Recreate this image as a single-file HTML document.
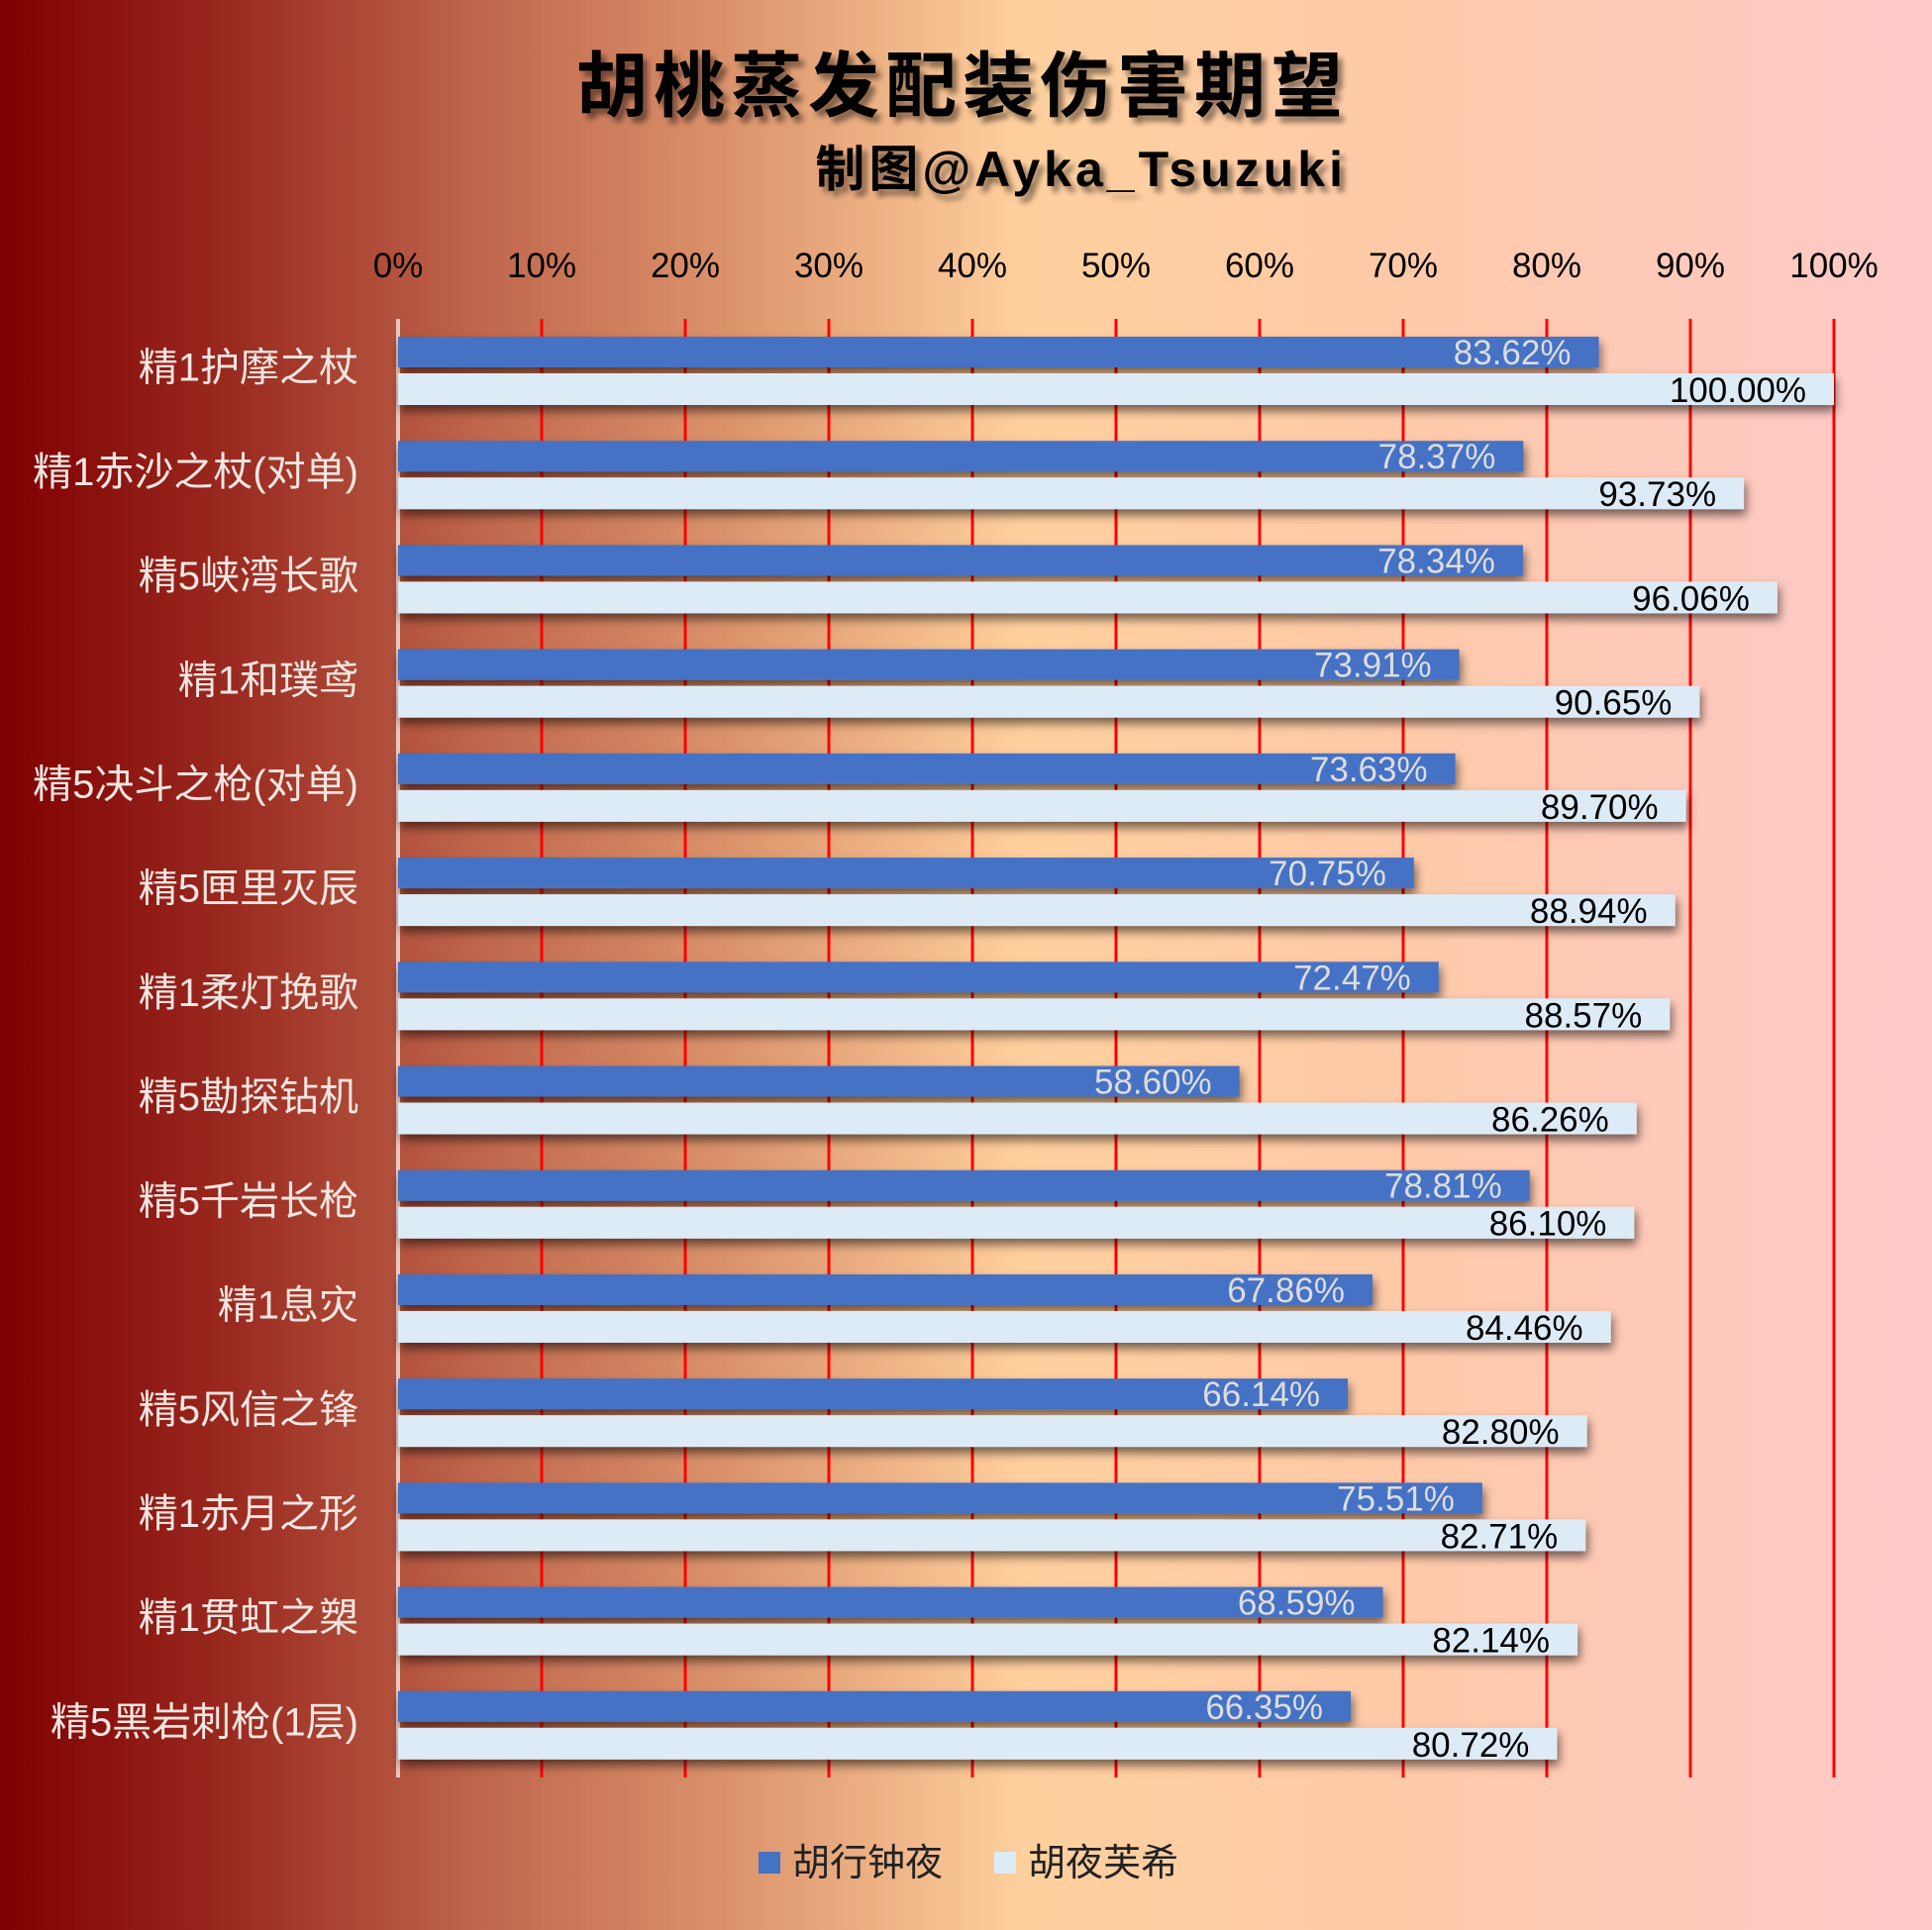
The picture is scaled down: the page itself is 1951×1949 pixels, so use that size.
<!DOCTYPE html>
<html><head><meta charset="utf-8"><style>
html,body{margin:0;padding:0;}
body{width:1951px;height:1949px;overflow:hidden;background:linear-gradient(to right,#7f0000 0%,#9a2a20 12%,#c0674d 25%,#dc946c 38%,#ffd09e 53%,#ffcaa8 72%,#ffcaca 100%);font-family:"Liberation Sans","Noto Sans CJK SC",sans-serif;}
</style></head><body>
<svg id="chart" width="1951" height="1949" xmlns="http://www.w3.org/2000/svg" style="position:absolute;left:0;top:0">
<defs>
<filter id="sh" x="-5%" y="-50%" width="110%" height="250%"><feDropShadow dx="2" dy="6" stdDeviation="5" flood-color="#000" flood-opacity="0.55"/></filter>
<filter id="tsh" x="-5%" y="-20%" width="110%" height="150%"><feDropShadow dx="5" dy="6" stdDeviation="3" flood-color="#000" flood-opacity="0.45"/></filter>
</defs>
<text x="972" y="112" text-anchor="middle" font-size="72" font-weight="bold" letter-spacing="6" fill="#000" filter="url(#tsh)" font-family="'Noto Sans CJK SC',sans-serif">胡桃蒸发配装伤害期望</text>
<text x="1360" y="188" text-anchor="end" font-size="50" font-weight="bold" letter-spacing="4" fill="#000" filter="url(#tsh)" font-family="'Liberation Sans','Noto Sans CJK SC',sans-serif">制图@Ayka_Tsuzuki</text>
<g id="grid"></g><g id="bars"></g><g id="labels"></g>
<g>
<rect x="766" y="1870" width="22" height="22" fill="#4472c4"/>
<text x="800" y="1894" font-size="38" fill="#222">胡行钟夜</text>
<rect x="1004" y="1870" width="22" height="22" fill="#ddebf7"/>
<text x="1038" y="1894" font-size="38" fill="#222">胡夜芙希</text>
</g>
</svg>
<script>
const categories=["精1护摩之杖","精1赤沙之杖(对单)","精5峡湾长歌","精1和璞鸢","精5决斗之枪(对单)","精5匣里灭辰","精1柔灯挽歌","精5勘探钻机","精5千岩长枪","精1息灾","精5风信之锋","精1赤月之形","精1贯虹之槊","精5黑岩刺枪(1层)"];
const seriesA=[83.62,78.37,78.34,73.91,73.63,70.75,72.47,58.60,78.81,67.86,66.14,75.51,68.59,66.35];
const seriesB=[100.00,93.73,96.06,90.65,89.70,88.94,88.57,86.26,86.10,84.46,82.80,82.71,82.14,80.72];
const ticks=[0,10,20,30,40,50,60,70,80,90,100];
const NS="http://www.w3.org/2000/svg";
const X0=402,X1=1852,Y0=322,Y1=1795;
const band=(Y1-Y0)/categories.length;
const x=v=>X0+(X1-X0)*v/100;
function mk(t,a,p){const e=document.createElementNS(NS,t);for(const k in a)e.setAttribute(k,a[k]);p.appendChild(e);return e;}
const grid=document.getElementById('grid'),bars=document.getElementById('bars'),labels=document.getElementById('labels');
ticks.forEach(t=>{
 if(t>0){const l=mk('line',{x1:x(t),x2:x(t),y1:Y0,y2:Y1,stroke:'#ff0000','stroke-width':3},grid);
 
 }
 const tx=mk('text',{x:x(t),y:280,'text-anchor':'middle','font-size':35,fill:'#000'},labels);
 tx.textContent=t+'%';
 
 
});
const ax=mk('line',{x1:X0,x2:X0,y1:Y0,y2:Y1,stroke:'#e8c8c0','stroke-width':4},grid);


categories.forEach((c,i)=>{
 const top=Y0+band*i;
 const ct=mk('text',{x:362,y:top+band/2+10,'text-anchor':'end','font-size':40,fill:'#f2e6e2'},labels);
 ct.textContent=c;
 
 
 const a=mk('rect',{x:X0,y:top+18,width:x(seriesA[i])-X0,height:31,fill:'#4472c4',filter:'url(#sh)'},bars);
 
 
 const b=mk('rect',{x:X0,y:top+55,width:x(seriesB[i])-X0,height:32,fill:'#ddebf7',filter:'url(#sh)'},bars);
 
 
 const la=mk('text',{x:x(seriesA[i])-28,y:top+46,'text-anchor':'end','font-size':35,fill:'#dcdcdc'},labels);
 la.textContent=seriesA[i].toFixed(2)+'%';
 
 
 const lb=mk('text',{x:x(seriesB[i])-28,y:top+84,'text-anchor':'end','font-size':35,fill:'#000'},labels);
 lb.textContent=seriesB[i].toFixed(2)+'%';
 
 
});
</script>
</body></html>
